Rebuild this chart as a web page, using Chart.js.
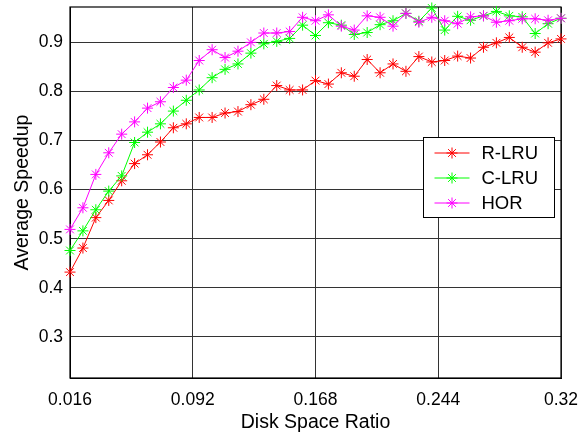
<!DOCTYPE html>
<html>
<head>
<meta charset="utf-8">
<script src="https://cdn.jsdelivr.net/npm/chart.js@4.4.0/dist/chart.umd.min.js"></script>
<style>
html,body{margin:0;padding:0;background:#fff;}
#wrap{position:relative;width:584px;height:437px;}
</style>
</head>
<body>
<div id="wrap"><canvas id="c" width="584" height="437"></canvas></div>
<script>
const xValues = [0.016,0.024,0.032,0.040,0.048,0.056,0.064,0.072,0.080,0.088,
  0.096,0.104,0.112,0.120,0.128,0.136,0.144,0.152,0.160,0.168,
  0.176,0.184,0.192,0.200,0.208,0.216,0.224,0.232,0.240,0.248,
  0.256,0.264,0.272,0.280,0.288,0.296,0.304,0.312,0.320];
const rLRU = [0.432,0.481,0.543,0.578,0.618,0.653,0.671,0.697,0.726,0.734,
  0.747,0.747,0.756,0.759,0.773,0.784,0.812,0.803,0.803,0.822,
  0.815,0.838,0.831,0.865,0.838,0.856,0.841,0.871,0.860,0.863,
  0.872,0.868,0.890,0.899,0.910,0.890,0.880,0.899,0.907];
const cLRU = [0.476,0.516,0.559,0.597,0.628,0.696,0.717,0.734,0.760,0.782,
  0.803,0.828,0.845,0.856,0.878,0.897,0.902,0.908,0.935,0.914,
  0.940,0.935,0.916,0.920,0.936,0.944,0.959,0.943,0.970,0.925,
  0.953,0.945,0.954,0.963,0.954,0.952,0.918,0.938,0.949];
const hor = [0.519,0.563,0.631,0.675,0.713,0.738,0.766,0.779,0.808,0.823,
  0.863,0.885,0.869,0.882,0.900,0.919,0.919,0.922,0.951,0.944,
  0.956,0.933,0.925,0.954,0.951,0.933,0.959,0.941,0.951,0.944,
  0.938,0.952,0.954,0.941,0.944,0.948,0.948,0.945,0.949];
const seriesNames = ['R-LRU','C-LRU','HOR'];
const xTicks = [0.016,0.092,0.168,0.244,0.32];
const xTickLabels = ['0.016','0.092','0.168','0.244','0.32'];
const yTicks = [0.3,0.4,0.5,0.6,0.7,0.8,0.9];
const yTickLabels = ['0.3','0.4','0.5','0.6','0.7','0.8','0.9'];
const xTitle = 'Disk Space Ratio';
const yTitle = 'Average Speedup';

const FONT = '"Liberation Sans", Arial, Helvetica, sans-serif';
const colors = ['#ff0000','#00ff00','#ff00ff'];
const seriesData = [rLRU, cLRU, hor];

function pts(arr){ return arr.map((v,i)=>({x:xValues[i], y:v})); }

const datasets = seriesData.map((arr,k)=>({
  label: seriesNames[k],
  data: pts(arr),
  borderColor: colors[k],
  backgroundColor: colors[k],
  borderWidth: 1,
  pointStyle: 'star',
  pointRadius: 5.5,
  pointBorderWidth: 1,
  pointBorderColor: colors[k],
  pointBackgroundColor: colors[k],
  pointHoverRadius: 5.5,
  tension: 0,
  clip: false,
  order: 2 - k
}));

function drawStar(ctx, cx, cy, r){
  const d = r * Math.SQRT1_2;
  ctx.beginPath();
  ctx.moveTo(cx - r, cy); ctx.lineTo(cx + r, cy);
  ctx.moveTo(cx, cy - r); ctx.lineTo(cx, cy + r);
  ctx.moveTo(cx - d, cy - d); ctx.lineTo(cx + d, cy + d);
  ctx.moveTo(cx - d, cy + d); ctx.lineTo(cx + d, cy - d);
  ctx.stroke();
}

const legendPlugin = {
  id: 'boxLegend',
  afterDraw(chart){
    const ctx = chart.ctx;
    const x0 = 423.5, y0 = 137.5, w = 131, h = 80;
    ctx.save();
    ctx.fillStyle = '#fff';
    ctx.fillRect(x0, y0, w, h);
    ctx.strokeStyle = '#000';
    ctx.lineWidth = 1;
    ctx.strokeRect(x0, y0, w, h);
    ctx.font = '18.5px ' + FONT;
    ctx.textBaseline = 'middle';
    ctx.textAlign = 'left';
    chart.data.datasets.forEach((ds,k)=>{
      const yy = y0 + 15.5 + k*25;
      ctx.strokeStyle = ds.borderColor;
      ctx.lineWidth = 1;
      ctx.beginPath();
      ctx.moveTo(x0+11, yy);
      ctx.lineTo(x0+46, yy);
      ctx.stroke();
      drawStar(ctx, x0+28.5, yy, 5.5);
      ctx.fillStyle = '#000';
      ctx.fillText(ds.label, x0+58, yy+1);
    });
    ctx.restore();
  }
};

const boxPlugin = {
  id: 'frame',
  beforeDatasetsDraw(chart){
    const a = chart.chartArea, ctx = chart.ctx;
    ctx.save();
    ctx.strokeStyle = '#000';
    ctx.lineWidth = 1.2;
    ctx.strokeRect(a.left, a.top, a.right-a.left, a.bottom-a.top);
    ctx.restore();
  }
};

new Chart(document.getElementById('c'), {
  type: 'line',
  data: { datasets },
  options: {
    responsive: false,
    animation: false,
    events: [],
    layout: { padding: { top: 7, right: 23, left: 0, bottom: 0 } },
    plugins: { legend: { display: false }, tooltip: { enabled: false } },
    scales: {
      x: {
        type: 'linear',
        min: 0.016, max: 0.32,
        afterBuildTicks(s){ s.ticks = xTicks.map(v=>({value:v})); },
        afterFit(s){ s.height = 59; s.paddingLeft = 0; s.paddingRight = 0; },
        grid: { color: '#333', lineWidth: 1, drawTicks: false },
        border: { display: true, color: '#000', width: 1 },
        ticks: {
          color: '#000', padding: 12,
          font: { family: FONT, size: 17.5 },
          maxRotation: 0, autoSkip: false,
          callback(v){ const i = xTicks.indexOf(v); return i>=0 ? xTickLabels[i] : ''; }
        },
        title: { display: true, text: xTitle, color: '#000', font: { family: FONT, size: 19.5 }, padding: { top: 0, bottom: 3 } }
      },
      y: {
        type: 'linear',
        min: 0.2163, max: 0.972,
        afterBuildTicks(s){ s.ticks = yTicks.map(v=>({value:v})); },
        afterFit(s){ s.width = 70; s.paddingTop = 0; s.paddingBottom = 0; },
        grid: { color: '#333', lineWidth: 1, drawTicks: false },
        border: { display: true, color: '#000', width: 1 },
        ticks: {
          color: '#000', padding: 7,
          font: { family: FONT, size: 17.5 },
          autoSkip: false,
          callback(v){ const i = yTicks.findIndex(t=>Math.abs(t-v)<1e-9); return i>=0 ? yTickLabels[i] : ''; }
        },
        title: { display: true, text: yTitle, color: '#000', font: { family: FONT, size: 19.5 }, padding: { top: 11, bottom: 0 } }
      }
    }
  },
  plugins: [boxPlugin, legendPlugin]
});
</script>
</body>
</html>
